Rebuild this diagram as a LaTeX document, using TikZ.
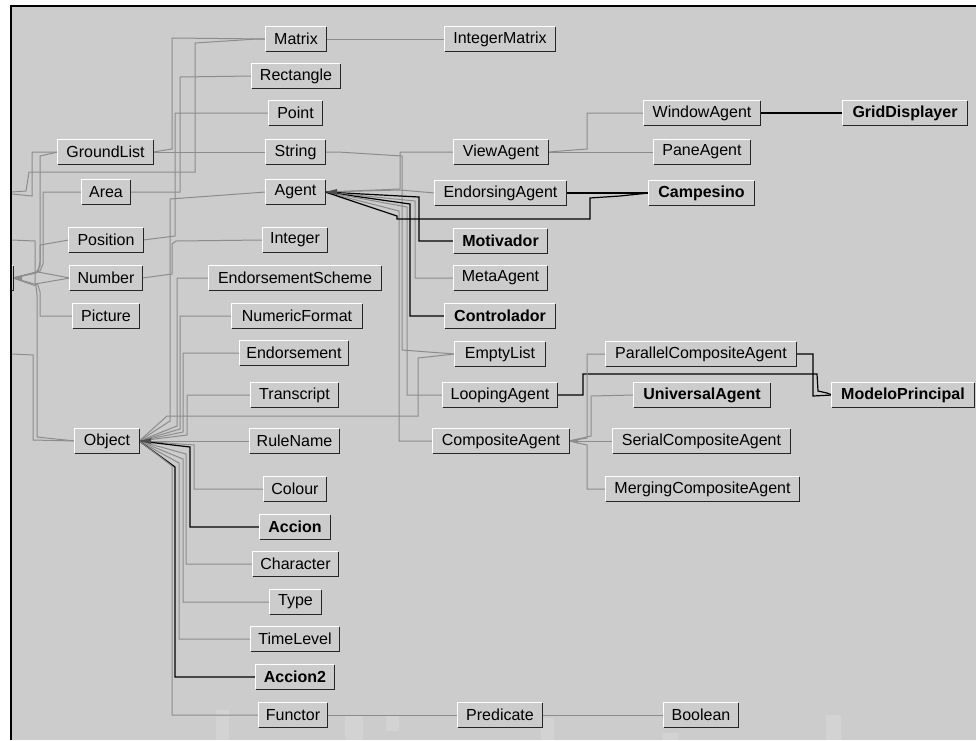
\documentclass[tikz,border=0pt]{standalone}
\usepackage{fontspec}
\setmainfont{Liberation Sans}
\definecolor{bgc}{HTML}{CCCCCC}
\definecolor{edg}{HTML}{8C8C8C}
\definecolor{wm}{HTML}{D3D3D3}
\pgfdeclarelayer{bg}
\pgfsetlayers{bg,main}
\newcommand\bevel[1]{%
  \draw[white,line width=1.2pt] (#1.south west) -- (#1.north west) -- (#1.north east);
  \draw[black!85,line width=1.2pt] (#1.north east) -- (#1.south east) -- (#1.south west);}
\begin{document}
\begin{tikzpicture}[x=1pt,y=-1pt,
  cls/.style={fill=bgc,minimum height=24pt,inner sep=0pt,font=\fontsize{16}{18}\selectfont},
  clsb/.style={cls,font=\fontsize{16}{18}\selectfont\bfseries},
  ge/.style={draw=edg,line width=1pt},
  be/.style={draw=black,line width=1.2pt},
  tipg/.style={fill=edg},
  tipd/.style={fill=black!70}]
\useasboundingbox (0,0) rectangle (976,740);
\begin{pgfonlayer}{bg}
\fill[white] (0,0) rectangle (976,740);
\fill[bgc] (10,6) rectangle (976,740);
% faint watermark
\fill[wm] (216,710) rectangle (229,740);
\fill[wm] (345,715) rectangle (363,740);
\fill[wm] (386,715) rectangle (399,731);
\fill[wm] (541,718) rectangle (554,740);
\fill[wm] (663,733) rectangle (679,740);
\fill[wm] (826,715) rectangle (841,740);
\end{pgfonlayer}

\begin{scope}
\clip (11,7) rectangle (976,740);
% off-screen parent
\node[cls,minimum width=60] (Root) at (-17,278) {};
\coordinate (L1) at (-10,193);
\coordinate (L2) at (-10,240);
\coordinate (L3) at (-10,354);
% column 1
\node[cls,minimum width=95] (GroundList) at (105.5,152) {GroundList};
\node[cls,minimum width=48] (Area) at (106,192) {Area};
\node[cls,minimum width=74] (Position) at (106,240) {Position};
\node[cls,minimum width=72] (Number) at (106,278) {Number};
\node[cls,minimum width=66] (Picture) at (106,316) {Picture};
\node[cls,minimum width=64] (Object) at (107,441) {Object};
% column 2
\node[cls,minimum width=60] (Matrix) at (296,39) {Matrix};
\node[cls,minimum width=88] (Rectangle) at (296,76) {Rectangle};
\node[cls,minimum width=53] (Point) at (295.5,113) {Point};
\node[cls,minimum width=59] (String) at (295.5,152) {String};
\node[cls,minimum width=59] (Agent) at (295.5,192) {Agent};
\node[cls,minimum width=64] (Integer) at (295,240) {Integer};
\node[cls,minimum width=172] (EndorsementScheme) at (295,278) {EndorsementScheme};
\node[cls,minimum width=130] (NumericFormat) at (297,316) {NumericFormat};
\node[cls,minimum width=108] (Endorsement) at (294,353) {Endorsement};
\node[cls,minimum width=87] (Transcript) at (294.5,395) {Transcript};
\node[cls,minimum width=89] (RuleName) at (294.5,441) {RuleName};
\node[cls,minimum width=62] (Colour) at (295,489) {Colour};
\node[clsb,minimum width=70] (Accion) at (295,527) {Accion};
\node[cls,minimum width=85] (Character) at (295.5,564) {Character};
\node[cls,minimum width=51] (Type) at (295.5,602) {Type};
\node[cls,minimum width=88] (TimeLevel) at (295,639) {TimeLevel};
\node[clsb,minimum width=78] (Accion2) at (295,677) {Accion2};
\node[cls,minimum width=68] (Functor) at (293,715) {Functor};
% column 3
\node[cls,minimum width=110] (IntegerMatrix) at (500,39) {IntegerMatrix};
\node[cls,minimum width=94] (ViewAgent) at (501,152) {ViewAgent};
\node[cls,minimum width=131] (EndorsingAgent) at (500.5,193) {EndorsingAgent};
\node[clsb,minimum width=93] (Motivador) at (500.5,241) {Motivador};
\node[cls,minimum width=93] (MetaAgent) at (500.5,278) {MetaAgent};
\node[clsb,minimum width=110] (Controlador) at (500,316) {Controlador};
\node[cls,minimum width=90] (EmptyList) at (500,354) {EmptyList};
\node[cls,minimum width=114] (LoopingAgent) at (500,395) {LoopingAgent};
\node[cls,minimum width=136] (CompositeAgent) at (501,441) {CompositeAgent};
\node[cls,minimum width=84] (Predicate) at (500,715) {Predicate};
% column 4
\node[cls,minimum width=116] (WindowAgent) at (702,113) {WindowAgent};
\node[cls,minimum width=96] (PaneAgent) at (702,152) {PaneAgent};
\node[clsb,minimum width=105] (Campesino) at (701.5,193) {Campesino};
\node[cls,minimum width=190] (ParallelCompositeAgent) at (701,354) {ParallelCompositeAgent};
\node[clsb,minimum width=136] (UniversalAgent) at (702,395) {UniversalAgent};
\node[cls,minimum width=177] (SerialCompositeAgent) at (701.5,441) {SerialCompositeAgent};
\node[cls,minimum width=193] (MergingCompositeAgent) at (702.5,489) {MergingCompositeAgent};
\node[cls,minimum width=74] (Boolean) at (701,715) {Boolean};
% column 5
\node[clsb,minimum width=124] (GridDisplayer) at (905,113) {GridDisplayer};
\node[clsb,minimum width=142] (ModeloPrincipal) at (903,395) {ModeloPrincipal};

\foreach \n in {Root,GroundList,Area,Position,Number,Picture,Object,Matrix,Rectangle,Point,String,Agent,Integer,EndorsementScheme,NumericFormat,Endorsement,Transcript,RuleName,Colour,Accion,Character,Type,TimeLevel,Accion2,Functor,IntegerMatrix,ViewAgent,EndorsingAgent,Motivador,MetaAgent,Controlador,EmptyList,LoopingAgent,CompositeAgent,Predicate,WindowAgent,PaneAgent,Campesino,ParallelCompositeAgent,UniversalAgent,SerialCompositeAgent,MergingCompositeAgent,Boolean,GridDisplayer,ModeloPrincipal}{\bevel{\n}}
\end{scope}

\begin{pgfonlayer}{bg}
\begin{scope}
\clip (11,7) rectangle (976,740);
% from the left, off-screen
\draw[ge] (L1) -- (12,192) -- (26,191) -- (29,172) -- (195,172) -- (195,43) -- (257,39) -- (Matrix.west);
\draw[ge] (L1) -- (12,194) -- (32,196) -- (32,152) -- (GroundList.west);
\draw[ge] (Root.east) -- (38,272) -- (40,262) -- (40,156) -- (GroundList.west);
\draw[ge] (Root.east) -- (40,271) -- (43,264) -- (43,192) -- (Area.west);
\draw[ge] (Root.east) -- (36,273) -- (40,266) -- (40,245) -- (Position.west);
\draw[ge] (Root.east) -- (38,272) -- (Number.west);
\draw[ge] (L2) -- (12,240) -- (35,241) -- (35,284) -- (Number.west);
\draw[ge] (Root.east) -- (38,285) -- (40,292) -- (40,316) -- (Picture.west);
\draw[ge] (Root.east) -- (36,286) -- (37,295) -- (37,437) -- (Object.west);
\draw[ge] (L3) -- (12,354) -- (33,355) -- (33,440) -- (Object.west);
% column 1 -> column 2
\draw[ge] (GroundList.east) -- (String.west);
\draw[ge] (GroundList.east) -- (172,149) -- (172,38) -- (Matrix.west);
\draw[ge] (Area.east) -- (180,192) -- (180,77) -- (Rectangle.west);
\draw[ge] (Position.east) -- (175,236) -- (175,113) -- (Point.west);
\draw[ge] (Number.east) -- (172,274) -- (172,244) -- (176,241) -- (Integer.west);
% Object fan
\draw[ge] (Object.east) -- (167,416) -- (418,416) -- (418,358) -- (EmptyList.west);
\draw[ge] (Object.east) -- (170,421) -- (170,199) -- (Agent.west);
\draw[ge] (Object.east) -- (177,426) |- (EndorsementScheme.west);
\draw[ge] (Object.east) -- (180,429) |- (NumericFormat.west);
\draw[ge] (Object.east) -- (183,432) |- (Endorsement.west);
\draw[ge] (Object.east) -- (187,435) |- (Transcript.west);
\draw[ge] (Object.east) -- (RuleName.west);
\draw[ge] (Object.east) -- (194,445) |- (Colour.west);
\draw[be] (Object.east) -- (190,447) |- (Accion.west);
\draw[ge] (Object.east) -- (186,454) |- (Character.west);
\draw[ge] (Object.east) -- (183,459) |- (Type.west);
\draw[ge] (Object.east) -- (179,463) |- (TimeLevel.west);
\draw[be] (Object.east) -- (175,467) |- (Accion2.west);
\draw[ge] (Object.east) -- (163,459) -- (172,466) |- (Functor.west);
% column 2 -> column 3
\draw[ge] (Matrix.east) -- (IntegerMatrix.west);
\draw[ge] (String.east) -- (338,152) -- (402,156) -- (402,350) -- (EmptyList.west);
\draw[ge] (Agent.east) -- (400,189) -- (400,152) -- (ViewAgent.west);
\draw[ge] (Agent.east) -- (400,190) -- (EndorsingAgent.west);
\draw[be] (Agent.east) -- (419,197) |- (Motivador.west);
\draw[ge] (Agent.east) -- (415,201) |- (MetaAgent.west);
\draw[be] (Agent.east) -- (410,204) |- (Controlador.west);
\draw[ge] (Agent.east) -- (407,207) |- (LoopingAgent.west);
\draw[ge] (Agent.east) -- (399,211) |- (CompositeAgent.west);
\draw[be] (Agent.east) -- (397,216) -- (397,219) -- (590,219) -- (590,198) -- (620,196) -- (Campesino.west);
\draw[be] (EndorsingAgent.east) -- (Campesino.west);
% column 3 -> column 4
\draw[ge] (ViewAgent.east) -- (587,149) -- (587,113) -- (WindowAgent.west);
\draw[ge] (ViewAgent.east) -- (PaneAgent.west);
\draw[be] (WindowAgent.east) -- (GridDisplayer.west);
\draw[be] (LoopingAgent.east) -- (583,395) -- (583,374) -- (817,374) -- (818,391) -- (827,393) -- (ModeloPrincipal.west);
\draw[be] (ParallelCompositeAgent.east) -- (813,354) -- (813,396) -- (ModeloPrincipal.west);
\draw[ge] (CompositeAgent.east) -- (587,438) -- (587,354) -- (ParallelCompositeAgent.west);
\draw[ge] (CompositeAgent.east) -- (591,436) -- (591,396) -- (UniversalAgent.west);
\draw[ge] (CompositeAgent.east) -- (SerialCompositeAgent.west);
\draw[ge] (CompositeAgent.east) -- (587,445) -- (587,489) -- (MergingCompositeAgent.west);
% bottom row
\draw[ge] (Functor.east) -- (Predicate.west);
\draw[ge] (Predicate.east) -- (Boolean.west);
% convergence wedges
\fill[tipg] (Root.east) -- ++(9,-2.5) -- ++(0,5) -- cycle;
\fill[tipg] (CompositeAgent.east) -- ++(9,-2.5) -- ++(0,5) -- cycle;
\fill[tipd] (Object.east) -- ++(12,-3) -- ++(0,6) -- cycle;
\fill[tipd] (Agent.east) -- ++(12,-3) -- ++(0,6) -- cycle;
\end{scope}
\end{pgfonlayer}

% viewport frame
\draw[black,line width=2pt] (11,740) -- (11,6) -- (976,6);
\end{tikzpicture}
\end{document}
